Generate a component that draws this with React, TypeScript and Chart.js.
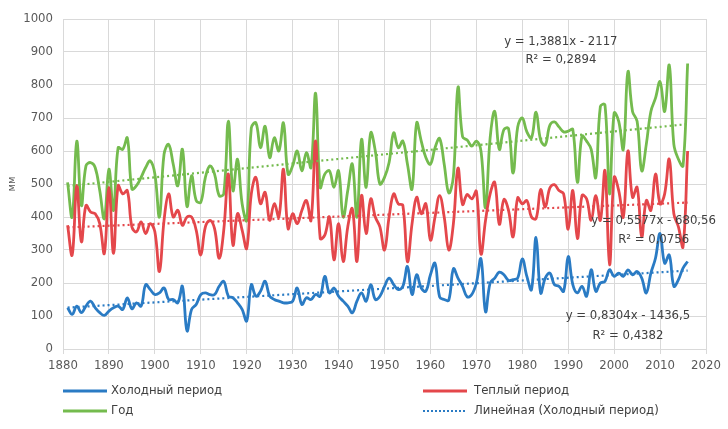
import { useEffect, useRef } from "react";
import { Chart, registerables } from "chart.js";
Chart.register(...registerables);

const FIRST_YEAR = 1881;

// Холодный период
const holod = [
  125, 105, 130, 110, 130, 145, 125, 110, 102, 115,
  125, 130, 120, 155, 122, 140, 130, 195, 180, 165,
  170, 185, 150, 150, 140, 190, 55, 120, 135, 165,
  170, 165, 165, 190, 205, 160, 155, 140, 120, 85,
  195, 160, 175, 205, 160, 150, 145, 140, 140, 145,
  185, 135, 155, 150, 165, 160, 220, 170, 185, 160,
  145, 130, 110, 145, 170, 145, 195, 150, 160, 190,
  215, 195, 180, 190, 250, 165, 225, 185, 175, 225,
  260, 158, 150, 148, 243, 215, 190, 158, 165, 200,
  273, 113, 200, 215, 233, 225, 208, 210, 215, 273,
  220, 180, 338, 170, 215, 230, 195, 190, 175, 280,
  195, 170, 190, 160, 240, 175, 200, 205, 240, 220,
  230, 220, 240, 225, 235, 215, 170, 230, 275, 350,
  260, 285, 190, 210, 245, 265,
];

// Теплый период
const teply = [
  375, 285, 495, 325, 435, 415, 410, 380, 290, 490,
  290, 495, 470, 480, 370, 355, 385, 350, 380, 355,
  235, 390, 470, 400, 420, 375, 400, 400, 360, 285,
  370, 390, 365, 275, 360, 530, 315, 410, 360, 305,
  470, 520, 440, 475, 390, 440, 400, 545, 365, 410,
  380, 420, 450, 390, 630, 335, 345, 400, 270, 380,
  265, 370, 425, 265, 465, 350, 455, 400, 370, 300,
  400, 470, 440, 435, 265, 380, 460, 410, 440, 330,
  400, 465, 400, 300, 380, 548, 438, 468, 455, 478,
  288, 390, 470, 505, 378, 453, 420, 340, 458, 440,
  450, 400, 395, 483, 430, 488, 498, 480, 470, 363,
  480, 335, 465, 455, 390, 465, 390, 540, 255, 520,
  480, 400, 600, 460, 490, 340, 450, 420, 530, 440,
  470, 575, 410, 370, 310, 600,
];

// Год
const god = [
  505, 400, 630, 435, 555, 565, 550, 480, 395, 545,
  420, 610, 605, 640, 485, 495, 520, 550, 570, 530,
  400, 590, 620, 560, 495, 605, 432, 525, 450, 445,
  520, 555, 530, 465, 470, 690, 480, 575, 440, 390,
  670, 685, 610, 675, 580, 640, 600, 685, 530, 555,
  600, 540, 595, 550, 775, 490, 530, 540, 490, 540,
  400, 480, 560, 400, 635, 490, 655, 600, 500, 520,
  565, 655, 610, 630, 560, 485, 685, 630, 580, 560,
  610, 638, 560, 473, 523, 793, 643, 633, 615, 630,
  600, 428, 640, 720, 605, 665, 668, 533, 673, 700,
  658, 640, 718, 633, 618, 678, 688, 673, 658, 660,
  665, 505, 645, 630, 605, 520, 735, 740, 470, 715,
  690, 605, 840, 720, 690, 540, 620, 720, 760, 810,
  720, 860, 620, 575, 555, 865,
];

const seriesNames = ["Холодный период", "Теплый период", "Год"];
const legendNames = ["Холодный период", "Теплый период", "Год", "Линейная (Холодный период)"];
const trendSlopes = [0.8304, 0.5577, 1.3881];
const trendIntercepts = [-1436.5, -680.56, -2117];
const trendEquations = ["y = 0,8304x - 1436,5", "y = 0,5577x - 680,56", "y = 1,3881x - 2117"];
const trendR2 = ["R² = 0,4382", "R² = 0,0756", "R² = 0,2894"];
const xTicks = { min: 1880, max: 2020, step: 10 };
const yTicks = { min: 0, max: 1000, step: 100 };
const yTitle = "мм";

const COLORS = ["#2a7bc4", "#e4474b", "#74bb4e"];
const FONT = "'Liberation Sans Narrow', 'DejaVu Sans Condensed', 'Liberation Sans', sans-serif";

export default function App() {
  const ref = useRef<HTMLCanvasElement | null>(null);

  useEffect(() => {
    document.body.style.margin = "0";
    const canvas = ref.current;
    if (!canvas) return;
    const years = holod.map((_, i) => FIRST_YEAR + i);
    const series = [holod, teply, god];
    const lastYear = years[years.length - 1];

    const mainSets = series.map((vals, i) => ({
      label: seriesNames[i],
      data: vals.map((v, j) => ({ x: years[j], y: v })),
      borderColor: COLORS[i],
      backgroundColor: COLORS[i],
      borderWidth: 2.8,
      pointRadius: 0,
      tension: 0.4,
      fill: false,
      order: 2,
    }));
    const trendSets = series.map((_, i) => ({
      label: "Линейная (" + seriesNames[i] + ")",
      data: [FIRST_YEAR, lastYear].map((yr) => ({ x: yr, y: trendSlopes[i] * yr + trendIntercepts[i] })),
      borderColor: COLORS[i],
      borderWidth: 2.2,
      borderDash: [2, 3],
      pointRadius: 0,
      tension: 0,
      fill: false,
      order: 1,
    }));

    const annotPos = [
      { x: 2003, y: 100, y2: 42 },
      { x: 2008.6, y: 388, y2: 330 },
      { x: 1988.4, y: 930, y2: 876 },
    ];

    const overlay = {
      id: "overlay",
      afterDraw(chart: any) {
        const { ctx } = chart;
        const xs = chart.scales.x;
        const ys = chart.scales.y;
        ctx.save();
        ctx.fillStyle = "#404040";
        ctx.font = `13px ${FONT}`;
        ctx.textAlign = "center";
        ctx.textBaseline = "middle";
        annotPos.forEach((p, i) => {
          const px = xs.getPixelForValue(p.x);
          ctx.fillText(trendEquations[i], px, ys.getPixelForValue(p.y));
          ctx.fillText(trendR2[i], px, ys.getPixelForValue(p.y2));
        });
        // legend
        const rows = [391, 411];
        const cols = [{ l: 63, t: 111 }, { l: 423, t: 474 }];
        ctx.textAlign = "left";
        legendNames.forEach((name, i) => {
          const c = cols[i % 2];
          const r = rows[Math.floor(i / 2)];
          ctx.beginPath();
          ctx.strokeStyle = i === 3 ? COLORS[0] : COLORS[i];
          ctx.lineWidth = i === 3 ? 2 : 2.8;
          ctx.setLineDash(i === 3 ? [2, 2] : []);
          ctx.moveTo(c.l, r);
          ctx.lineTo(c.l + 44, r);
          ctx.stroke();
          ctx.setLineDash([]);
          ctx.fillText(name, c.t, r);
        });
        ctx.restore();
      },
    };

    const chart = new Chart(canvas, {
      type: "line",
      data: { datasets: [...mainSets, ...trendSets] as any },
      options: {
        animation: false,
        responsive: false,
        maintainAspectRatio: false,
        layout: { padding: { left: 0, right: 22, top: 19, bottom: 50 } },
        plugins: { legend: { display: false }, tooltip: { enabled: false } },
        scales: {
          x: {
            type: "linear",
            min: xTicks.min,
            max: xTicks.max,
            afterFit: (s: any) => { s.height = 30; },
            ticks: {
              stepSize: xTicks.step,
              color: "#595959",
              font: { size: 13, family: FONT },
              padding: 4,
              maxRotation: 0,
              callback: (v: any) => String(v),
            },
            grid: { color: "#d9d9d9", tickLength: 5, lineWidth: 1 },
            border: { color: "#d9d9d9" },
          },
          y: {
            min: yTicks.min,
            max: yTicks.max,
            afterFit: (s: any) => { s.width = 63; },
            ticks: {
              stepSize: yTicks.step,
              color: "#595959",
              font: { size: 13, family: FONT },
              padding: 10,
              callback: (v: any) => String(v),
            },
            grid: { color: "#d9d9d9", drawTicks: false, lineWidth: 1 },
            border: { color: "#d9d9d9" },
            title: { display: true, text: yTitle, color: "#595959", font: { size: 11, family: FONT }, padding: { top: 6, bottom: 0 } },
          },
        },
      },
      plugins: [overlay],
    });
    return () => chart.destroy();
  }, []);

  return <canvas ref={ref} width={728} height={429} style={{ display: "block" }} />;
}
